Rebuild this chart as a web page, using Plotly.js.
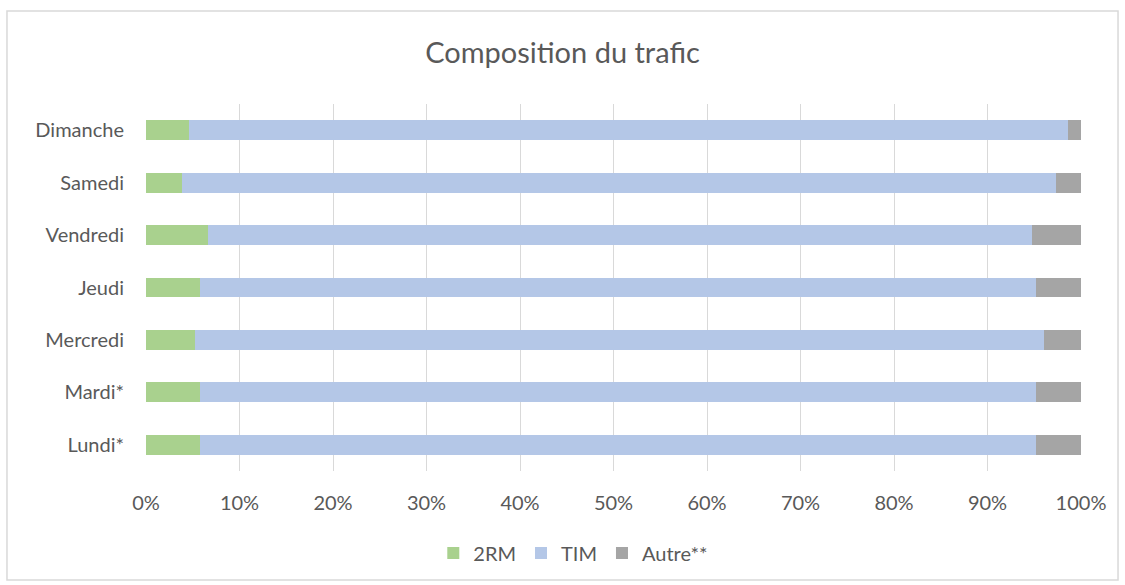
<!DOCTYPE html>
<html><head><meta charset="utf-8">
<script src="https://cdn.plot.ly/plotly-3.0.1.min.js"></script>
<style>html,body{margin:0;padding:0;background:#fff}#chart{width:1125px;height:585px}</style>
</head><body><div id="chart"></div>
<script>
const categories = ["Lundi*", "Mardi*", "Mercredi", "Jeudi", "Vendredi", "Samedi", "Dimanche"];
const share2RM  = [5.8, 5.8, 5.2, 5.8, 6.6, 3.8, 4.6];
const shareTIM  = [89.4, 89.4, 90.8, 89.4, 88.2, 93.5, 94.0];
const shareAutre = [4.8, 4.8, 4.0, 4.8, 5.2, 2.7, 1.4];
const tickVals = [0,10,20,30,40,50,60,70,80,90,100];
const tickText = ["0%","10%","20%","30%","40%","50%","60%","70%","80%","90%","100%"];

const font = {family: "Lato, Open Sans, Liberation Sans, sans-serif", color: "#595959"};
function tr(name, vals, color) {
  return {type: "bar", orientation: "h", name: name, y: categories, x: vals,
    marker: {color: color, line: {width: 0}}, hoverinfo: "x+name"};
}
const data = [tr("2RM", share2RM, "#a9d18e"), tr("TIM", shareTIM, "#b4c7e7"), tr("Autre**", shareAutre, "#a5a5a5")];
const layout = {
  width: 1125, height: 585,
  margin: {l: 146, r: 44, t: 104, b: 114},
  paper_bgcolor: "#fff", plot_bgcolor: "#fff",
  barmode: "stack", bargap: 0.62,
  font: Object.assign({size: 20}, font),
  title: {text: "Composition du trafic", font: Object.assign({}, font, {size: 29}), x: 0.5, xanchor: "center", y: 0.91, yanchor: "middle"},
  xaxis: {range: [0, 100], tickvals: tickVals, ticktext: tickText, showgrid: true, gridcolor: "#d9d9d9", gridwidth: 1,
    zeroline: false, showline: false, ticks: "", ticklabelstandoff: 18, tickfont: Object.assign({}, font, {size: 20}), fixedrange: true},
  yaxis: {showgrid: false, zeroline: false, showline: false, ticks: "", ticklen: 0, ticklabelstandoff: 21,
    tickfont: Object.assign({}, font, {size: 20}), fixedrange: true},
  legend: {orientation: "h", x: 0.457, xanchor: "center", y: -0.2234, yanchor: "middle", font: Object.assign({}, font, {size: 20}),
    itemwidth: 20, traceorder: "normal"},
  shapes: [{type: "rect", xref: "paper", yref: "paper", x0: -0.1487, x1: 1.0396, y0: -0.297, y1: 1.2534,
    line: {color: "#d9d9d9", width: 1.5}, fillcolor: "rgba(0,0,0,0)", layer: "below"}],
  showlegend: true
};
Plotly.newPlot("chart", data, layout, {displayModeBar: false, staticPlot: true});
</script></body></html>
